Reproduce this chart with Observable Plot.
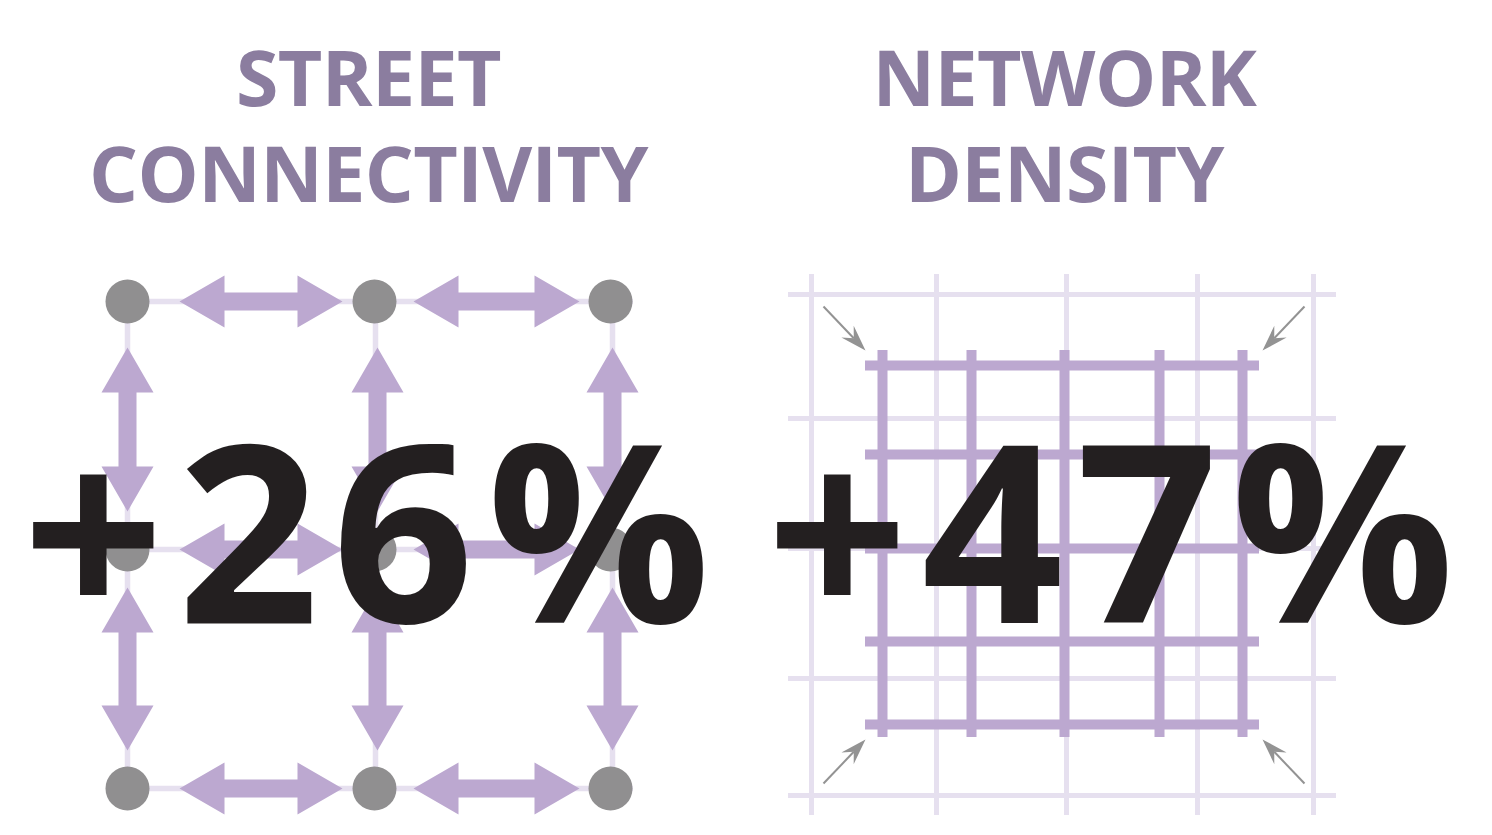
<!DOCTYPE html>
<html><head><meta charset="utf-8">
<script src="https://cdn.jsdelivr.net/npm/d3@7"></script>
<script src="https://cdn.jsdelivr.net/npm/@observablehq/plot@0.6"></script>
<style>html,body{margin:0;padding:0;background:#fff} svg{display:block}</style>
</head><body><div id="chart"></div>
<script>
// ---------- data ----------
const panelTitles = [["STREET", "CONNECTIVITY"], ["NETWORK", "DENSITY"]];
const panelValues = [26, 47];            // percent increase
const nodeCols = [0, 1, 2];              // street-connectivity intersections (grid index)
const nodeRows = [0, 1, 2];
const oldGridLines = [0, 1, 2, 3, 4];    // network density: existing street grid
const newGridLines = [0, 1, 2, 3, 4];    // network density: denser street grid
const corners = ["tl", "tr", "bl", "br"];

// ---------- layout (pixel positions of the diagram) ----------
const W = 1492, H = 835;
const panelCx = [368, 1064];
const titleBaseline = [105, 201];
const BIG = 248, BIG_LS = 13;
const valueCx = [366 + BIG_LS / 2, 1110 + BIG_LS / 2], valueBaseline = 622;
const colX = [127, 374, 610], rowY = [301, 549, 788];
const vArrowX = [127, 377, 612];
const hArrowSpans = [[179, 342], [413, 579]];
const vArrowSpans = [[347, 511], [587, 750]];
const oldX = [811, 936, 1066, 1197, 1313], oldY = [294, 418, 548, 678, 795];
const oldXext = [788, 1336], oldYext = [274, 815];
const newX = [882, 971, 1064, 1159, 1242], newY = [365, 454, 548, 641, 724];
const newXext = [865, 1259], newYext = [350, 737];
const cornerArrows = {
  tl: {x1: 823, y1: 306, x2: 865, y2: 350},
  tr: {x1: 1304, y1: 306, x2: 1262, y2: 350},
  bl: {x1: 823, y1: 783, x2: 865, y2: 739},
  br: {x1: 1304, y1: 783, x2: 1262, y2: 739}
};

// ---------- styles ----------
const cTitle = "#8b7d9f", cBig = "#231f20", cPurple = "#bca8d0", cLight = "#e6e0ef", cNode = "#908f90", cGrayArrow = "#939393";
const HEAD = 45, HALF = 26, SHAFT = 9;

// ---------- derived tables ----------
const lightH = nodeRows.map(r => ({y: rowY[r], x1: colX[0], x2: colX[2] + 23}));
const lightV = nodeCols.map(c => ({x: colX[c] + (c === 0 ? 0 : c === 1 ? 1 : 2), y1: rowY[0], y2: rowY[2]}));
const nodes = nodeRows.flatMap(r => nodeCols.map(c => ({x: colX[c], y: rowY[r]})));

const arrowPts = [];
let aid = 0;
nodeRows.forEach(r => hArrowSpans.forEach(([a, b]) => {
  const y = rowY[r], id = aid++;
  [[a, y], [a + HEAD, y - HALF], [a + HEAD, y - SHAFT], [b - HEAD, y - SHAFT], [b - HEAD, y - HALF], [b, y],
   [b - HEAD, y + HALF], [b - HEAD, y + SHAFT], [a + HEAD, y + SHAFT], [a + HEAD, y + HALF]]
    .forEach(([x, yy]) => arrowPts.push({id, x, y: yy}));
}));
nodeCols.forEach(c => vArrowSpans.forEach(([a, b]) => {
  const x = vArrowX[c], id = aid++;
  [[x, a], [x - HALF, a + HEAD], [x - SHAFT, a + HEAD], [x - SHAFT, b - HEAD], [x - HALF, b - HEAD], [x, b],
   [x + HALF, b - HEAD], [x + SHAFT, b - HEAD], [x + SHAFT, a + HEAD], [x + HALF, a + HEAD]]
    .forEach(([xx, y]) => arrowPts.push({id, x: xx, y}));
}));

const oldV = oldGridLines.map(i => ({x: oldX[i], y1: oldYext[0], y2: oldYext[1]}));
const oldH = oldGridLines.map(i => ({y: oldY[i], x1: oldXext[0], x2: oldXext[1]}));
const newV = newGridLines.map(i => ({x: newX[i], y1: newYext[0], y2: newYext[1]}));
const newH = newGridLines.map(i => ({y: newY[i], x1: newXext[0], x2: newXext[1]}));

const shafts = [], heads = [];
corners.forEach((k) => {
  const a = cornerArrows[k];
  const dx = a.x2 - a.x1, dy = a.y2 - a.y1, len = Math.hypot(dx, dy);
  const ux = dx / len, uy = dy / len, nx = -uy, ny = ux;
  const L = 26, w = 8.5, notch = 17;
  shafts.push({x1: a.x1, y1: a.y1, x2: a.x2 - ux * notch, y2: a.y2 - uy * notch});
  [[a.x2, a.y2], [a.x2 - ux * L + nx * w, a.y2 - uy * L + ny * w], [a.x2 - ux * notch, a.y2 - uy * notch],
   [a.x2 - ux * L - nx * w, a.y2 - uy * L - ny * w]].forEach(([x, y]) => heads.push({id: k, x, y}));
});

const titles = panelTitles.flatMap((lines, p) => lines.map((t, li) => ({text: t, x: panelCx[p], y: titleBaseline[li]})));
const values = panelValues.map((v, p) => ({text: `+${v}%`, x: valueCx[p], y: valueBaseline}));

const chart = Plot.plot({
  width: W, height: H, margin: 0,
  x: {domain: [0, W], range: [0, W], axis: null},
  y: {domain: [0, H], range: [0, H], axis: null},
  style: {background: "#fff"},
  marks: [
    Plot.ruleY(lightH, {y: "y", x1: "x1", x2: "x2", stroke: cLight, strokeWidth: 5.5}),
    Plot.ruleX(lightV, {x: "x", y1: "y1", y2: "y2", stroke: cLight, strokeWidth: 5.5}),
    Plot.ruleX(oldV, {x: "x", y1: "y1", y2: "y2", stroke: cLight, strokeWidth: 5}),
    Plot.ruleY(oldH, {y: "y", x1: "x1", x2: "x2", stroke: cLight, strokeWidth: 5}),
    Plot.ruleX(newV, {x: "x", y1: "y1", y2: "y2", stroke: cPurple, strokeWidth: 10}),
    Plot.ruleY(newH, {y: "y", x1: "x1", x2: "x2", stroke: cPurple, strokeWidth: 10}),
    Plot.line(arrowPts, {x: "x", y: "y", z: "id", fill: cPurple, stroke: "none", curve: "linear-closed"}),
    Plot.dot(nodes, {x: "x", y: "y", r: 22, fill: cNode, stroke: "none"}),
    Plot.link(shafts, {x1: "x1", y1: "y1", x2: "x2", y2: "y2", stroke: cGrayArrow, strokeWidth: 2}),
    Plot.line(heads, {x: "x", y: "y", z: "id", fill: cGrayArrow, stroke: "none", curve: "linear-closed"}),
    Plot.text(titles, {x: "x", y: "y", text: "text", fill: cTitle, fontSize: 77, fontWeight: 700,
      fontFamily: "Open Sans", textAnchor: "middle", lineAnchor: "bottom"}),
    Plot.text(values, {x: "x", y: "y", text: "text", fill: cBig, fontSize: BIG, fontWeight: 700,
      fontFamily: "Open Sans", textAnchor: "middle", lineAnchor: "bottom"})
  ]
});
d3.select(chart).selectAll(`g[font-size="${BIG}"]`).attr("letter-spacing", BIG_LS);
d3.select(chart).selectAll(`g[font-size="77"]`).attr("letter-spacing", -0.6);
document.getElementById("chart").appendChild(chart);
</script>
</body></html>
